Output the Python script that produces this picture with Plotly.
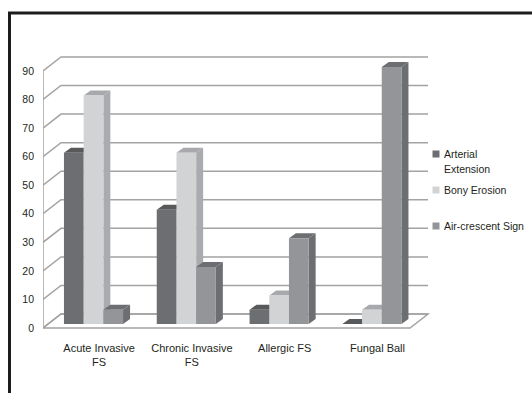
import plotly.graph_objects as go

# ---- data -------------------------------------------------------------
categories = ["Acute Invasive<br>FS", "Chronic Invasive<br>FS", "Allergic FS", "Fungal Ball"]
series_names = ["Arterial Extension", "Bony Erosion", "Air-crescent Sign"]
arterial_extension = [60, 40, 5, 0]
bony_erosion = [80, 60, 10, 5]
air_crescent_sign = [5, 20, 30, 90]
y_ticks = [0, 10, 20, 30, 40, 50, 60, 70, 80, 90]

# ---- styling ----------------------------------------------------------
FONT = "Liberation Sans, Arial, sans-serif"
TEXT = "#231f20"
GRID = "#a3a3a3"
front_colors = ["#6d6e71", "#d1d3d4", "#939598"]
top_colors = ["#58595b", "#a7a9ac", "#6d6e71"]
side_colors = ["#5e5f61", "#a9abae", "#6d6e71"]

W, H = 532, 393
L, R, T, B = 43, 432, 50, 340          # plot area in pixels
KX = 92.8                               # px per category
C0 = 93.5                               # px of first category centre
Y0 = 328                                # px of value 0 on the front plane
KY = 2.856                              # px per unit

x_range = [(L - C0) / KX, (R - C0) / KX]
y_range = [(Y0 - B) / KY, (Y0 - T) / KY]

def dx(px):
    return px / KX

def dy(px):
    return px / KY

# depth of the walls / floor and of the bars (in axis units)
wall_dx, wall_dy = dx(18), dy(14)
bar_dx, bar_dy = dx(7), dy(5)
bar_base = dy(4)
bar_w = dx(19.7)
floor_left = x_range[0]
floor_right = (410 - C0) / KX

def path(points):
    return "M " + " L ".join(f"{x:.5f},{y:.5f}" for x, y in points) + " Z"

def px_paper_x(px):
    return (px - L) / (R - L)

def px_paper_y(py):
    return (B - py) / (B - T)

shapes = []

# floor
shapes.append(dict(type="path", xref="x", yref="y", layer="below",
                   path=path([(floor_left, 0), (floor_right, 0),
                              (floor_right + wall_dx, wall_dy), (floor_left + wall_dx, wall_dy)]),
                   fillcolor="white", line=dict(color=GRID, width=1.5)))

# back-wall gridlines with their run along the side wall
for v in y_ticks:
    shapes.append(dict(type="path", xref="x", yref="y", layer="below",
                       path=f"M {floor_left:.5f},{v:.5f} L {floor_left + wall_dx:.5f},{v + wall_dy:.5f} "
                            f"L {floor_right + wall_dx:.5f},{v + wall_dy:.5f}",
                       line=dict(color=GRID, width=1.5)))

# front-left edge of the side wall
shapes.append(dict(type="line", xref="x", yref="y", layer="below",
                   x0=floor_left, x1=floor_left, y0=0, y1=y_ticks[-1],
                   line=dict(color=GRID, width=1.5)))

series_values = [arterial_extension, bony_erosion, air_crescent_sign]

# side and top faces of every bar, drawn left to right
for i in range(len(categories)):
    for j, vals in enumerate(series_values):
        v = vals[i]
        x0 = i + (j - 1) * bar_w - bar_w / 2
        x1 = x0 + bar_w
        b0, b1 = bar_base, bar_base + v
        shapes.append(dict(type="path", xref="x", yref="y", layer="below",
                           path=path([(x1, b0), (x1, b1), (x1 + bar_dx, b1 + bar_dy), (x1 + bar_dx, b0 + bar_dy)]),
                           fillcolor=side_colors[j], line=dict(width=0)))
        shapes.append(dict(type="path", xref="x", yref="y", layer="below",
                           path=path([(x0, b1), (x1, b1), (x1 + bar_dx, b1 + bar_dy), (x0 + bar_dx, b1 + bar_dy)]),
                           fillcolor=top_colors[j], line=dict(width=0)))

# outer frame
shapes.append(dict(type="line", xref="paper", yref="paper",
                   x0=px_paper_x(8), x1=px_paper_x(540), y0=px_paper_y(13), y1=px_paper_y(13),
                   line=dict(color="#1c1c1c", width=3)))
shapes.append(dict(type="line", xref="paper", yref="paper",
                   x0=px_paper_x(9.5), x1=px_paper_x(9.5), y0=px_paper_y(12), y1=px_paper_y(400),
                   line=dict(color="#1c1c1c", width=3)))

fig = go.Figure()

# front faces
for j, (name, vals) in enumerate(zip(series_names, series_values)):
    fig.add_trace(go.Bar(
        name=name,
        x=[i + (j - 1) * bar_w for i in range(len(categories))],
        y=vals,
        base=bar_base,
        width=bar_w,
        marker=dict(color=front_colors[j], line=dict(width=0)),
        showlegend=False,
    ))

# legend
annotations = []
legend_rows = [(154, ["Arterial", "Extension"]), (190, ["Bony Erosion"]), (226, ["Air-crescent Sign"])]
for j, (cy, lines) in enumerate(legend_rows):
    shapes.append(dict(type="rect", xref="paper", yref="paper",
                       x0=px_paper_x(432.5), x1=px_paper_x(439.5),
                       y0=px_paper_y(cy + 3.5), y1=px_paper_y(cy - 3.5),
                       fillcolor=front_colors[j], line=dict(width=0)))
    for k, line in enumerate(lines):
        annotations.append(dict(xref="paper", yref="paper",
                                x=px_paper_x(442), y=px_paper_y(cy + k * 14.5),
                                xanchor="left", yanchor="middle", showarrow=False,
                                text=line, font=dict(family=FONT, size=10.5, color=TEXT)))

fig.update_layout(
    width=W, height=H,
    margin=dict(l=L, r=W - R, t=T, b=H - B, pad=0),
    paper_bgcolor="white", plot_bgcolor="white",
    barmode="overlay",
    font=dict(family=FONT, size=10.5, color=TEXT),
    shapes=shapes,
    annotations=annotations,
    showlegend=False,
    xaxis=dict(range=x_range, showgrid=False, zeroline=False, showline=False,
               tickvals=[i + 0.06 for i in range(len(categories))], ticktext=categories,
               tickfont=dict(family=FONT, size=11, color=TEXT), ticks=""),
    yaxis=dict(range=y_range, showgrid=False, zeroline=False, showline=False,
               tickvals=y_ticks, ticks="", ticklabelstandoff=8,
               tickfont=dict(family=FONT, size=10.5, color=TEXT)),
)

fig.write_html("out.html")
